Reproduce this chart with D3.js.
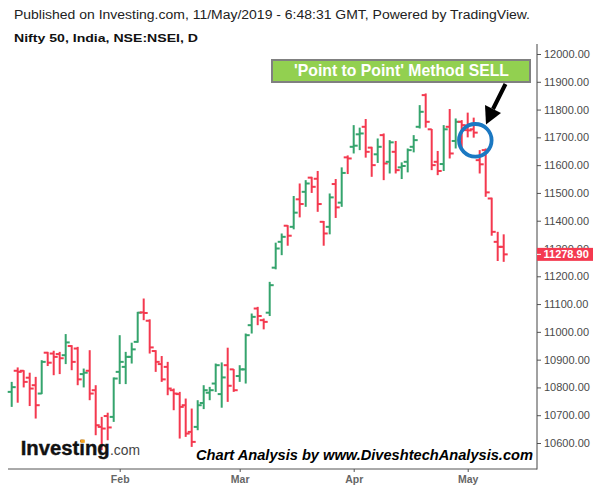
<!DOCTYPE html>
<html>
<head>
<meta charset="utf-8">
<script src="https://cdn.jsdelivr.net/npm/d3@7"></script>
<style>
  body { margin: 0; background: #fff; }
  text { font-family: "Liberation Sans", Arial, sans-serif; }
</style>
</head>
<body>
<svg id="chart"></svg>
<script>
const dates = [
  "2019-01-08","2019-01-09","2019-01-10","2019-01-11","2019-01-14","2019-01-15","2019-01-16","2019-01-17","2019-01-18",
  "2019-01-21","2019-01-22","2019-01-23","2019-01-24","2019-01-25","2019-01-28","2019-01-29","2019-01-30","2019-01-31",
  "2019-02-01","2019-02-04","2019-02-05","2019-02-06","2019-02-07","2019-02-08","2019-02-11","2019-02-12","2019-02-13",
  "2019-02-14","2019-02-15","2019-02-18","2019-02-19","2019-02-20","2019-02-21","2019-02-22","2019-02-25","2019-02-26",
  "2019-02-27","2019-02-28",
  "2019-03-01","2019-03-05","2019-03-06","2019-03-07","2019-03-08","2019-03-11","2019-03-12","2019-03-13","2019-03-14",
  "2019-03-15","2019-03-18","2019-03-19","2019-03-20","2019-03-22","2019-03-25","2019-03-26","2019-03-27","2019-03-28",
  "2019-03-29",
  "2019-04-01","2019-04-02","2019-04-03","2019-04-04","2019-04-05","2019-04-08","2019-04-09","2019-04-10","2019-04-11",
  "2019-04-12","2019-04-15","2019-04-16","2019-04-18","2019-04-22","2019-04-23","2019-04-24","2019-04-25","2019-04-26",
  "2019-04-30",
  "2019-05-02","2019-05-03","2019-05-06","2019-05-07","2019-05-08","2019-05-09","2019-05-10"
];
const opens = [
  10784,10860,10860,10835,10808,10778,10925,10922,10920,10916,10949,10940,10848,10860,10790,10658,10697,10694,
  10856,10874,10910,10964,11070,11040,10931,10884,10874,10790,10776,10736,10640,10658,10744,10781,10814,10776,10880,10865,
  10841,10865,11024,11084,11042,11069,11231,11324,11382,11378,11477,11504,11555,11551,11396,11378,11532,11465,11628,
  11666,11711,11738,11663,11639,11708,11612,11648,11592,11612,11666,11738,11852,11729,11612,11604,11738,11687,11756,
  11726,11729,11618,11654,11480,11324,11306
];
const highs = [
  10820,10872,10862,10853,10838,10898,10928,10932,10928,10992,10952,10946,10868,10934,10808,10694,10709,10836,
  10988,10928,10961,11072,11120,11045,10934,10913,10892,10796,10784,10760,10724,10754,10808,10802,10886,10890,10943,10866,
  10880,10994,11066,11090,11048,11180,11321,11354,11384,11489,11534,11546,11558,11579,11399,11498,11550,11592,11635,
  11744,11735,11766,11666,11696,11714,11690,11687,11610,11660,11708,11816,11858,11730,11651,11744,11802,11768,11762,
  11789,11771,11654,11660,11483,11360,11351
];
const lows = [
  10730,10745,10800,10733,10688,10776,10877,10844,10848,10884,10862,10808,10800,10754,10628,10574,10610,10676,
  10812,10812,10886,10961,11042,10922,10856,10820,10772,10718,10616,10622,10586,10646,10722,10754,10784,10727,10748,10784,
  10820,10814,10994,11024,11009,11057,11225,11276,11310,11369,11412,11450,11500,11432,11310,11351,11410,11450,11568,
  11642,11654,11627,11558,11608,11546,11570,11570,11550,11574,11646,11732,11735,11582,11564,11579,11624,11660,11660,
  11700,11699,11570,11486,11346,11255,11252
];
const closes = [
  10801,10856,10820,10796,10736,10892,10889,10910,10905,10962,10892,10829,10853,10778,10664,10652,10656,10832,
  10892,10910,10937,11069,11068,10944,10892,10829,10796,10778,10730,10634,10604,10736,10790,10790,10880,10836,10806,10790,
  10865,10988,11054,11057,11036,11168,11300,11342,11346,11429,11460,11534,11522,11460,11354,11484,11448,11572,11624,
  11670,11714,11648,11600,11666,11606,11682,11582,11597,11654,11690,11792,11756,11600,11579,11729,11642,11756,11744,
  11725,11717,11603,11502,11360,11306,11278.9
];
const monthTicks = ["2019-02-01","2019-03-01","2019-04-01","2019-05-02"];
const monthLabels = ["Feb","Mar","Apr","May"];
const priceTicks = [10600,10700,10800,10900,11000,11100,11200,11300,11400,11500,11600,11700,11800,11900,12000];
const lastPrice = 11278.90;

const width = 600, height = 490;
const upColor = "#35a46d", downColor = "#f4394f";

const svg = d3.select("#chart")
  .attr("width", width)
  .attr("height", height)
  .style("background", "#fff");

const bars = dates.map((d, i) => ({ date: d, o: opens[i], h: highs[i], l: lows[i], c: closes[i] }));

// scales
const x = d3.scalePoint().domain(dates).range([11.7, 503.7]);
const y = d3.scaleLinear().domain([10600, 12000]).range([443, 54]);

// header
svg.append("text")
  .attr("x", 14).attr("y", 19)
  .attr("font-size", 12).attr("fill", "#222")
  .attr("textLength", 516).attr("lengthAdjust", "spacingAndGlyphs")
  .text("Published on Investing.com, 11/May/2019 - 6:48:31 GMT, Powered by TradingView.");
svg.append("text")
  .attr("x", 14).attr("y", 42)
  .attr("font-size", 11.5).attr("font-weight", "bold").attr("fill", "#111")
  .attr("textLength", 184).attr("lengthAdjust", "spacingAndGlyphs")
  .text("Nifty 50, India, NSE:NSEI, D");

// price axis on the right
const yAxis = svg.append("g")
  .attr("transform", "translate(537,0)")
  .call(d3.axisRight(y).tickValues(priceTicks).tickSize(4).tickPadding(3).tickFormat(d3.format(".2f")));
yAxis.select(".domain").remove();
yAxis.selectAll(".tick line").attr("stroke", "#555");
yAxis.selectAll(".tick text")
  .attr("font-family", "'Liberation Sans', Arial, sans-serif")
  .attr("font-size", 11).attr("fill", "#4a4a4a");

svg.append("line")
  .attr("x1", 537).attr("x2", 537).attr("y1", 44).attr("y2", 469.5)
  .attr("stroke", "#444");

// time axis
const xAxis = svg.append("g")
  .attr("transform", "translate(0,469)")
  .call(d3.axisBottom(x).tickValues(monthTicks).tickSize(3).tickPadding(4)
    .tickFormat((d, i) => monthLabels[i]));
xAxis.select(".domain").remove();
xAxis.selectAll(".tick line").attr("stroke", "#555");
xAxis.selectAll(".tick text")
  .attr("font-family", "'Liberation Sans', Arial, sans-serif")
  .attr("font-size", 10.5).attr("font-weight", "bold").attr("fill", "#666");

svg.append("line")
  .attr("x1", 8).attr("x2", 537).attr("y1", 469).attr("y2", 469)
  .attr("stroke", "#555");

// OHLC bars
const g = svg.append("g");
const bar = g.selectAll("g.bar")
  .data(bars)
  .enter().append("g")
  .attr("class", "bar")
  .attr("fill", d => d.c >= d.o ? upColor : downColor);
bar.append("rect")
  .attr("x", d => x(d.date) - 1).attr("width", 2)
  .attr("y", d => y(d.h)).attr("height", d => Math.max(1, y(d.l) - y(d.h)));
bar.append("rect")
  .attr("x", d => x(d.date) - 4).attr("width", 4)
  .attr("y", d => y(d.o) - 1).attr("height", 2);
bar.append("rect")
  .attr("x", d => x(d.date)).attr("width", 4)
  .attr("y", d => y(d.c) - 1).attr("height", 2);

// last price tag (covers the 11300 label, as in the original)
svg.append("rect")
  .attr("x", 537).attr("y", y(lastPrice) - 6.5)
  .attr("width", 56).attr("height", 13)
  .attr("fill", downColor);
svg.append("line")
  .attr("x1", 537).attr("x2", 541).attr("y1", y(lastPrice)).attr("y2", y(lastPrice))
  .attr("stroke", "#fff");
svg.append("text")
  .attr("x", 543.5).attr("y", y(lastPrice)).attr("dy", "0.35em")
  .attr("font-size", 11).attr("font-weight", "bold").attr("fill", "#fff")
  .text(lastPrice.toFixed(2));

// annotation box
svg.append("rect")
  .attr("x", 272).attr("y", 60).attr("width", 258).attr("height", 22)
  .attr("fill", "#92d050").attr("stroke", "#808080").attr("stroke-width", 2);
svg.append("text")
  .attr("x", 294).attr("y", 76)
  .attr("font-size", 17).attr("font-weight", "bold").attr("fill", "#fff")
  .attr("textLength", 215).attr("lengthAdjust", "spacingAndGlyphs")
  .text("'Point to Point' Method SELL");

// arrow
svg.append("line")
  .attr("x1", 505.5).attr("y1", 84).attr("x2", 493).attr("y2", 109)
  .attr("stroke", "#000").attr("stroke-width", 4);
svg.append("path")
  .attr("d", "M486,124.5 L485,105 L501,113 Z")
  .attr("fill", "#000");

// circle
svg.append("circle")
  .attr("cx", 475.3).attr("cy", 140.3).attr("r", 16.3)
  .attr("fill", "none").attr("stroke", "#1b78c2").attr("stroke-width", 3.8);

// Investing.com logo
svg.append("text")
  .attr("x", 20.7).attr("y", 455)
  .attr("font-size", 20).attr("font-weight", "bold").attr("fill", "#111")
  .attr("stroke", "#111").attr("stroke-width", 0.4)
  .attr("textLength", 89).attr("lengthAdjust", "spacingAndGlyphs")
  .text("Investing");
svg.append("text")
  .attr("x", 110).attr("y", 455)
  .attr("font-size", 15).attr("fill", "#444")
  .attr("textLength", 30).attr("lengthAdjust", "spacingAndGlyphs")
  .text(".com");
// orange dot on the "i"
svg.append("rect")
  .attr("x", 80.6).attr("width", 4.2)
  .attr("y", 439.6).attr("height", 3.2)
  .attr("fill", "#f7a21b");

// watermark credit
svg.append("text")
  .attr("x", 196).attr("y", 460)
  .attr("font-size", 14).attr("font-weight", "bold").attr("font-style", "italic").attr("fill", "#000")
  .attr("textLength", 337).attr("lengthAdjust", "spacingAndGlyphs")
  .text("Chart Analysis by www.DiveshtechAnalysis.com");
</script>
</body>
</html>
